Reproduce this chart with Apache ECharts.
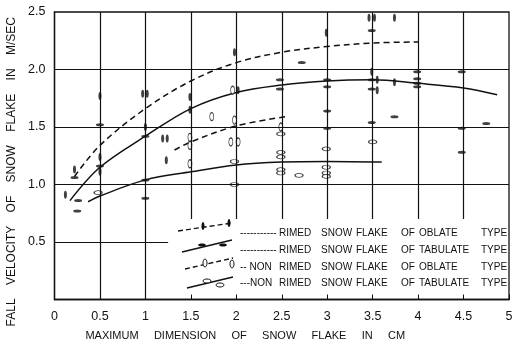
<!DOCTYPE html>
<html>
<head>
<meta charset="utf-8">
<script src="https://cdn.jsdelivr.net/npm/echarts@6/dist/echarts.min.js"></script>
<style>
    html, body { margin: 0; padding: 0; background: #fff; }
    #chart { width: 512px; height: 343px; }
</style>
</head>
<body>
<div id="chart"></div>
<script>
    // fitted curves [size cm, velocity m/s]
    const rimedOblateCurve = [[0.22,1.07],[0.5,1.34],[1.0,1.66],[1.5,1.90],[2.0,2.06],[2.5,2.15],[3.0,2.20],[3.5,2.23],[4.0,2.24]];
    const rimedTabulateCurve = [[0.17,0.86],[0.5,1.15],[1.0,1.42],[1.5,1.66],[2.0,1.80],[2.5,1.865],[3.0,1.90],[3.5,1.91],[4.0,1.88],[4.5,1.84],[4.87,1.78]];
    const nonRimedOblateCurve = [[1.32,1.30],[1.5,1.37],[2.0,1.51],[2.55,1.59]];
    const nonRimedTabulateCurve = [[0.37,0.85],[0.5,0.90],[1.0,1.04],[1.5,1.11],[2.0,1.17],[2.5,1.195],[3.0,1.20],[3.6,1.195]];

    // observed flakes
    const rimedOblatePts = [[0.12,0.91],[0.22,1.13],[0.5,1.77],[0.5,1.24],[0.5,1.11],[0.97,1.79],[1.02,1.79],[1.0,1.50],
        [1.19,1.40],[1.24,1.40],[1.23,1.21],[1.49,1.76],[1.49,1.65],[1.98,2.15],[2.02,1.82],[2.99,2.32],
        [3.46,2.45],[3.52,2.45],[3.74,2.45],[3.49,1.98],[3.55,1.91],[3.55,1.82],[3.74,1.89]];
    const rimedTabulatePts = [[0.22,1.06],[0.26,0.86],[0.25,0.77],[0.5,1.52],[0.5,1.16],[1.0,1.42],[1.0,1.04],[1.0,0.88],
        [2.48,1.91],[2.48,1.83],[2.72,2.06],[3.0,1.91],[3.0,1.85],[3.0,1.64],[3.0,1.49],[3.49,2.34],[3.49,1.91],
        [3.49,1.83],[3.49,1.54],[3.74,1.59],[3.99,1.98],[3.99,1.92],[3.99,1.88],[3.99,1.85],[4.48,1.98],[4.48,1.49],
        [4.48,1.28],[4.75,1.53]];
    const nonRimedOblatePts = [[1.49,1.41],[1.49,1.34],[1.49,1.18],[1.73,1.59],[1.96,1.82],[1.98,1.56],[1.94,1.37],[2.02,1.37],[2.49,1.50]];
    const nonRimedTabulatePts = [[0.48,0.93],[1.98,1.20],[1.98,1.00],[2.49,1.44],[2.49,1.28],[2.49,1.24],[2.49,1.13],[2.49,1.10],
        [2.69,1.08],[2.99,1.31],[2.99,1.15],[2.99,1.10],[2.99,1.07],[3.5,1.37]];

    const legendPrefix = ['-----------', '-----------', '-- NON', '---NON'];
    const legendWords = ['RIMED', 'SNOW', 'FLAKE', 'OF'];
    const legendKind = ['OBLATE', 'TABULATE', 'OBLATE', 'TABULATE'];

    const INK = '#111';
    const FONT = '"Liberation Sans", Arial, sans-serif';
    const ELLIPSE = 'path://M1,0A1,1,0,1,1,-1,0A1,1,0,1,1,1,0Z';

    function funCreat() {
        let myChart = echarts.init(document.getElementById('chart'));

        // grid lines (partial ones leave room for the legend)
        let grids = [];
        [0.5, 1.0].forEach(function (x) { grids.push([{coord: [x, 0]}, {coord: [x, 2.5]}]); });
        [1.5, 2.0, 2.5, 3.0, 3.5, 4.0, 4.5].forEach(function (x) { grids.push([{coord: [x, 0.70]}, {coord: [x, 2.5]}]); });
        [1.0, 1.5, 2.0].forEach(function (y) { grids.push([{coord: [0, y]}, {coord: [5, y]}]); });
        grids.push([{coord: [0, 0.5]}, {coord: [1.25, 0.5]}]);

        let curve = function (name, data, dashed) {
            return {
                name: name, type: 'line', data: data, smooth: 0.35, symbol: 'none', z: 3,
                lineStyle: {color: INK, width: 1.5, type: dashed ? [6, 4] : 'solid'}
            };
        };
        let dots = function (name, data, size, open) {
            return {
                name: name, type: 'scatter', data: data, symbol: ELLIPSE, symbolSize: size, z: 4,
                itemStyle: open ? {color: '#fff', borderColor: INK, borderWidth: 1} : {color: INK}
            };
        };

        // legend drawn by hand: sloped samples + word columns
        let rowsY = [233, 250, 267, 283];
        let samples = [
            {x1: 178, y1: 231, x2: 232, y2: 223, dash: [5, 3]},
            {x1: 182, y1: 252, x2: 232, y2: 240, dash: null},
            {x1: 185, y1: 269, x2: 233, y2: 258, dash: [5, 3]},
            {x1: 187, y1: 288, x2: 233, y2: 277, dash: null}
        ];
        let sampleMarks = [
            [[203, 226, 1.5, 4, false], [229, 223, 1.5, 4, false]],
            [[202, 245, 4, 1.5, false], [223, 245, 4, 1.5, false]],
            [[205, 263, 2, 4, true], [232, 264, 2, 4, true]],
            [[207, 281, 4, 2, true], [220, 285, 4, 2, true]]
        ];
        let wordX = [279, 321, 356, 401];
        let graphic = [];
        for (let i = 0; i < 4; i++) {
            let s = samples[i];
            graphic.push({type: 'line', shape: {x1: s.x1, y1: s.y1, x2: s.x2, y2: s.y2},
                style: {stroke: INK, lineWidth: 1.4, lineDash: s.dash}});
            sampleMarks[i].forEach(function (m) {
                graphic.push({type: 'ellipse', shape: {cx: m[0], cy: m[1], rx: m[2], ry: m[3]},
                    style: m[4] ? {fill: '#fff', stroke: INK, lineWidth: 1} : {fill: INK}});
            });
            let txt = function (x, t) {
                graphic.push({type: 'text', x: x, y: rowsY[i],
                    style: {text: t, fill: INK, font: '10px ' + FONT, verticalAlign: 'middle'}});
            };
            txt(240, legendPrefix[i]);
            legendWords.forEach(function (w, k) { txt(wordX[k], w); });
            txt(419, legendKind[i]);
            txt(481, 'TYPE');
        }

        let _option = {
            animation: false,
            backgroundColor: '#fff',
            textStyle: {fontFamily: FONT, color: INK},
            grid: {left: 54.5, right: 3, top: 12, bottom: 43.5, outerBoundsMode: 'none',
                show: true, borderColor: INK, borderWidth: 1.3},
            xAxis: {
                type: 'value', min: 0, max: 5, interval: 0.5,
                axisLine: {lineStyle: {color: INK, width: 1.3}},
                axisTick: {inside: true, length: 5, lineStyle: {color: INK}},
                splitLine: {show: false},
                axisLabel: {color: INK, fontSize: 12.5, margin: 11},
                name: 'MAXIMUM     DIMENSION     OF     SNOW     FLAKE     IN     CM',
                nameLocation: 'middle', nameGap: 31,
                nameTextStyle: {color: INK, fontSize: 11, padding: [0, 73, 0, 0]}
            },
            yAxis: {
                type: 'value', min: 0, max: 2.5, interval: 0.5,
                axisLine: {lineStyle: {color: INK, width: 1.3}},
                axisTick: {show: false},
                splitLine: {show: false},
                axisLabel: {color: INK, fontSize: 12.5, margin: 9,
                    formatter: function (v) { return v === 0 ? '' : v.toFixed(1); }},
                name: 'FALL    VELOCITY    OF    SNOW    FLAKE    IN    M/SEC',
                nameLocation: 'middle', nameGap: 37, nameRotate: 90,
                nameTextStyle: {color: INK, fontSize: 12, padding: [0, 32, 0, 0]}
            },
            graphic: graphic,
            series: [
                Object.assign(curve('rimed oblate', rimedOblateCurve, true), {
                    markLine: {silent: true, symbol: 'none', label: {show: false},
                        lineStyle: {color: INK, width: 1.2, type: 'solid'}, data: grids}
                }),
                curve('rimed tabulate', rimedTabulateCurve, false),
                curve('non rimed oblate', nonRimedOblateCurve, true),
                curve('non rimed tabulate', nonRimedTabulateCurve, false),
                dots('rimed oblate pts', rimedOblatePts, [3, 8], false),
                dots('rimed tabulate pts', rimedTabulatePts, [8, 3], false),
                dots('non rimed oblate pts', nonRimedOblatePts, [4, 8], true),
                dots('non rimed tabulate pts', nonRimedTabulatePts, [8, 4], true)
            ]
        };
        myChart.setOption(_option);
    }

    funCreat();
</script>
</body>
</html>
